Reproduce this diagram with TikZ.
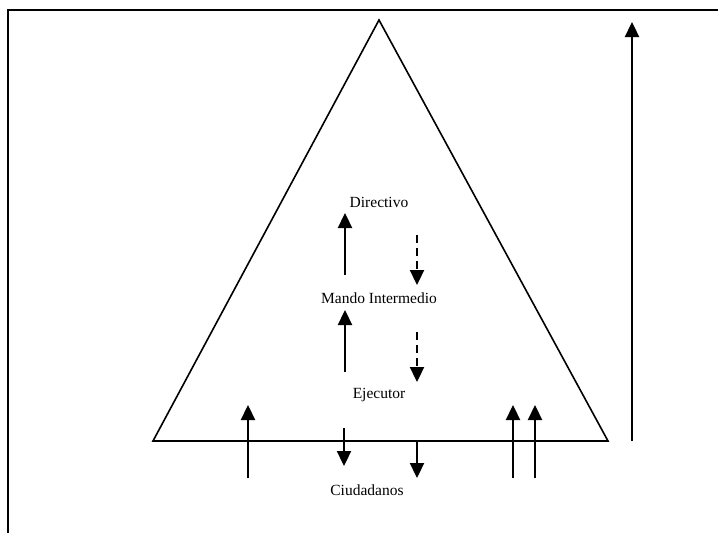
\documentclass[tikz,border=0pt]{standalone}
\usepackage{fontspec}
\setmainfont{Liberation Serif}
\usetikzlibrary{arrows.meta}
\begin{document}
\begin{tikzpicture}[x=1pt,y=-1pt,
  lbl/.style={font=\fontsize{15.5}{17}\selectfont, inner sep=0pt},
  arr/.style={line width=2.3pt, -{Triangle[length=15pt,width=14pt]}},
  darr/.style={arr, dash pattern=on 8pt off 5pt},
  frameline/.style={line width=2.5pt},
  tri/.style={line width=1.6pt, line join=miter}]
\useasboundingbox (0,0) rectangle (718,533);
% frame
\coordinate (fTL) at (8,10);
\coordinate (fTR) at (718,10);
\coordinate (fBL) at (8,533);
\draw[frameline] (fBL) -- (fTL) -- (fTR);
% triangle
\coordinate (apex) at (379,20);
\coordinate (bl) at (153,441);
\coordinate (br) at (608,441);
\draw[tri] (apex) -- (br) -- (bl) -- cycle;
% labels
\node[lbl] (dir) at (379,202) {Directivo};
\node[lbl] (mando) at (379,298) {Mando Intermedio};
\node[lbl] (ejec) at (379,395) {Ejecutor};
\node[lbl] (ciud) at (367,490) {Ciudadanos};
% tall right arrow
\coordinate (r0) at (632,441);
\coordinate (r1) at (632,22);
\draw[arr] (r0) -- (r1);
% inner arrows
\coordinate (u1a) at (345,275); \coordinate (u1b) at (345,213);
\draw[arr] (u1a) -- (u1b);
\coordinate (d1a) at (417,235); \coordinate (d1b) at (417,285);
\draw[darr] (d1a) -- (d1b);
\coordinate (u2a) at (345,372); \coordinate (u2b) at (345,310);
\draw[arr] (u2a) -- (u2b);
\coordinate (d2a) at (417,332); \coordinate (d2b) at (417,382);
\draw[darr] (d2a) -- (d2b);
% bottom arrows
\coordinate (b1a) at (248,478); \coordinate (b1b) at (248,405);
\draw[arr] (b1a) -- (b1b);
\coordinate (b2a) at (344,428); \coordinate (b2b) at (344,466);
\draw[arr] (b2a) -- (b2b);
\coordinate (b3a) at (417,441); \coordinate (b3b) at (417,478);
\draw[arr] (b3a) -- (b3b);
\coordinate (b4a) at (513,478); \coordinate (b4b) at (513,405);
\draw[arr] (b4a) -- (b4b);
\coordinate (b5a) at (535,478); \coordinate (b5b) at (535,405);
\draw[arr] (b5a) -- (b5b);
\end{tikzpicture}
\end{document}
